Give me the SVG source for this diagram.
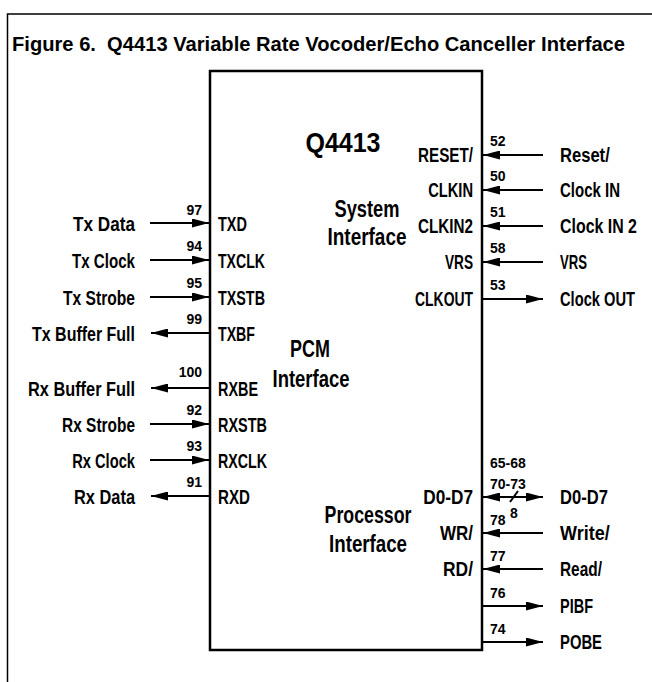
<svg xmlns="http://www.w3.org/2000/svg" width="652" height="682" viewBox="0 0 652 682">
<defs>
<style>
text{font-family:"Liberation Sans",Arial,sans-serif;font-weight:bold;fill:#000}
.t{font-size:20px}
.sig{font-size:21px}
.pin{font-size:14px}
.sec{font-size:23px;text-anchor:middle}
.r{text-anchor:end}
.c{text-anchor:middle}
.w{stroke:#000;stroke-width:2;fill:none}
.box{stroke:#000;stroke-width:2.5;fill:#fff}
</style>
<marker id="ah" viewBox="0 0 17 9" refX="17" refY="4.5" markerWidth="17" markerHeight="9" markerUnits="userSpaceOnUse" orient="auto-start-reverse">
<path d="M0,0 L17,4.5 L0,9 Z" fill="#000"/>
</marker>
</defs>
<rect width="652" height="682" fill="#fff"/>
<path d="M7.5,682 V14 H652" stroke="#000" stroke-width="1.5" fill="none"/>
<text class="t" x="12" y="51" textLength="613" lengthAdjust="spacingAndGlyphs">Figure 6.&#160; Q4413 Variable Rate Vocoder/Echo Canceller Interface</text>

<g id="chip">
<rect class="box" x="210" y="71" width="272" height="579"/>
<text font-size="28" class="c" transform="translate(343,152) scale(0.893,1)">Q4413</text>
</g>
<g id="sys-label"><text class="sec" transform="translate(367,217) scale(0.795,1)">System</text><text class="sec" transform="translate(367,245) scale(0.824,1)">Interface</text></g>
<g id="pcm-label"><text class="sec" transform="translate(310,357) scale(0.78,1)">PCM</text><text class="sec" transform="translate(311,387) scale(0.803,1)">Interface</text></g>
<g id="proc-label"><text class="sec" transform="translate(368,523) scale(0.773,1)">Processor</text><text class="sec" transform="translate(368,552) scale(0.813,1)">Interface</text></g>

<g id="connectors">
<line class="w" x1="150" y1="223" x2="209" y2="223" marker-end="url(#ah)"/>
<line class="w" x1="150" y1="260" x2="209" y2="260" marker-end="url(#ah)"/>
<line class="w" x1="150" y1="297" x2="209" y2="297" marker-end="url(#ah)"/>
<line class="w" x1="151" y1="333" x2="210" y2="333" marker-start="url(#ah)"/>
<line class="w" x1="151" y1="388" x2="210" y2="388" marker-start="url(#ah)"/>
<line class="w" x1="150" y1="424" x2="209" y2="424" marker-end="url(#ah)"/>
<line class="w" x1="150" y1="460" x2="209" y2="460" marker-end="url(#ah)"/>
<line class="w" x1="151" y1="496" x2="210" y2="496" marker-start="url(#ah)"/>
<line class="w" x1="483" y1="155" x2="543" y2="155" marker-start="url(#ah)"/>
<line class="w" x1="483" y1="190" x2="543" y2="190" marker-start="url(#ah)"/>
<line class="w" x1="483" y1="226" x2="543" y2="226" marker-start="url(#ah)"/>
<line class="w" x1="483" y1="262" x2="543" y2="262" marker-start="url(#ah)"/>
<line class="w" x1="482" y1="299" x2="543" y2="299" marker-end="url(#ah)"/>
<line class="w" x1="483" y1="497" x2="543" y2="497" marker-start="url(#ah)" marker-end="url(#ah)"/>
<line class="w" x1="510" y1="502" x2="518" y2="491" stroke-width="1.5"/>
<line class="w" x1="483" y1="533" x2="543" y2="533" marker-start="url(#ah)"/>
<line class="w" x1="483" y1="569" x2="543" y2="569" marker-start="url(#ah)"/>
<line class="w" x1="482" y1="606" x2="543" y2="606" marker-end="url(#ah)"/>
<line class="w" x1="482" y1="642" x2="543" y2="642" marker-end="url(#ah)"/>
</g>

<g id="txd"><text class="sig r" transform="translate(135,231) scale(0.817,1)">Tx Data</text><text class="pin r" x="202" y="215">97</text><text class="sig" transform="translate(218,231) scale(0.69,1)">TXD</text></g>
<g id="txclk"><text class="sig r" transform="translate(135,268) scale(0.72,1)">Tx Clock</text><text class="pin r" x="202" y="251">94</text><text class="sig" transform="translate(218,268) scale(0.671,1)">TXCLK</text></g>
<g id="txstb"><text class="sig r" transform="translate(135,305) scale(0.743,1)">Tx Strobe</text><text class="pin r" x="202" y="288">95</text><text class="sig" transform="translate(218,305) scale(0.683,1)">TXSTB</text></g>
<g id="txbf"><text class="sig r" transform="translate(135,341) scale(0.761,1)">Tx Buffer Full</text><text class="pin r" x="202" y="324">99</text><text class="sig" transform="translate(218,341) scale(0.675,1)">TXBF</text></g>
<g id="rxbe"><text class="sig r" transform="translate(135,396) scale(0.777,1)">Rx Buffer Full</text><text class="pin r" x="202" y="377">100</text><text class="sig" transform="translate(218,396) scale(0.686,1)">RXBE</text></g>
<g id="rxstb"><text class="sig r" transform="translate(135,432) scale(0.736,1)">Rx Strobe</text><text class="pin r" x="202" y="415">92</text><text class="sig" transform="translate(218,432) scale(0.688,1)">RXSTB</text></g>
<g id="rxclk"><text class="sig r" transform="translate(135,468) scale(0.70,1)">Rx Clock</text><text class="pin r" x="202" y="451">93</text><text class="sig" transform="translate(218,468) scale(0.678,1)">RXCLK</text></g>
<g id="rxd"><text class="sig r" transform="translate(135,504) scale(0.78,1)">Rx Data</text><text class="pin r" x="202" y="487">91</text><text class="sig" transform="translate(218,504) scale(0.72,1)">RXD</text></g>

<g id="reset"><text class="sig r" transform="translate(473,162) scale(0.725,1)">RESET/</text><text class="pin" x="490" y="146">52</text><text class="sig" transform="translate(560,162) scale(0.79,1)">Reset/</text></g>
<g id="clkin"><text class="sig r" transform="translate(473,197) scale(0.70,1)">CLKIN</text><text class="pin" x="490" y="181">50</text><text class="sig" transform="translate(560,197) scale(0.714,1)">Clock IN</text></g>
<g id="clkin2"><text class="sig r" transform="translate(473,233) scale(0.725,1)">CLKIN2</text><text class="pin" x="490" y="217">51</text><text class="sig" transform="translate(560,233) scale(0.758,1)">Clock IN 2</text></g>
<g id="vrs"><text class="sig r" transform="translate(473,269) scale(0.65,1)">VRS</text><text class="pin" x="490" y="253">58</text><text class="sig" transform="translate(560,269) scale(0.625,1)">VRS</text></g>
<g id="clkout"><text class="sig r" transform="translate(473,306) scale(0.663,1)">CLKOUT</text><text class="pin" x="490" y="290">53</text><text class="sig" transform="translate(560,306) scale(0.70,1)">Clock OUT</text></g>
<g id="d0d7"><text class="sig r" transform="translate(473,504) scale(0.82,1)">D0-D7</text><text class="pin" x="490" y="468">65-68</text><text class="pin" x="490" y="489">70-73</text><text class="pin c" x="514" y="518">8</text><text class="sig" transform="translate(560,504) scale(0.79,1)">D0-D7</text></g>
<g id="wr"><text class="sig r" transform="translate(473,540) scale(0.81,1)">WR/</text><text class="pin" x="490" y="525">78</text><text class="sig" transform="translate(560,540) scale(0.857,1)">Write/</text></g>
<g id="rd"><text class="sig r" transform="translate(473,576) scale(0.83,1)">RD/</text><text class="pin" x="490" y="561">77</text><text class="sig" transform="translate(560,576) scale(0.734,1)">Read/</text></g>
<g id="pibf"><text class="pin" x="490" y="598">76</text><text class="sig" transform="translate(560,613) scale(0.69,1)">PIBF</text></g>
<g id="pobe"><text class="pin" x="490" y="634">74</text><text class="sig" transform="translate(560,649) scale(0.706,1)">POBE</text></g>
</svg>
